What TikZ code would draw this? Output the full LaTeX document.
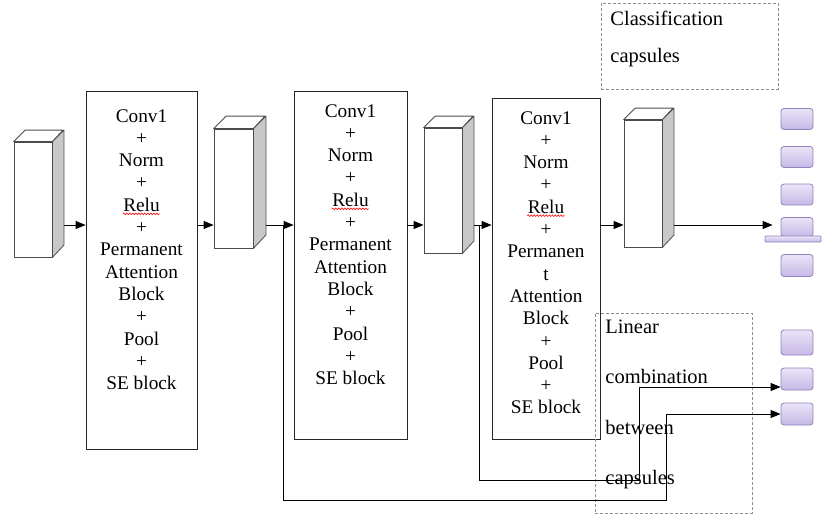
\documentclass[tikz,border=0pt]{standalone}
\usepackage{fontspec}
\setmainfont{Liberation Serif}
\usetikzlibrary{arrows.meta,decorations.pathmorphing}

\definecolor{sidegray}{HTML}{C8C8C8}
\definecolor{capTop}{HTML}{EAE4F8}
\definecolor{capBot}{HTML}{C6B8E6}
\definecolor{capEdge}{HTML}{9282BE}

\begin{document}
\begin{tikzpicture}[
        x=1pt, y=-1pt,
        line width=0.9pt,
        >={Triangle[length=10pt,width=8pt]},
        block/.style={rectangle, draw=black!85, line width=0.9pt, inner sep=0pt},
        cube/.style={rectangle, draw=black!70, fill=white, line width=0.8pt, inner sep=0pt},
        face/.style={draw=black!70, line width=0.8pt, line join=round},
        boxtext/.style={anchor=base, inner sep=0pt, font=\fontsize{19.3}{22}\selectfont},
        captxt/.style={anchor=base west, inner sep=0pt, font=\fontsize{20.5}{24}\selectfont},
        dashbox/.style={rectangle, draw=black!45, line width=0.6pt, dash pattern=on 3pt off 2pt, inner sep=0pt},
        capsule/.style={rectangle, rounded corners=3pt, draw=capEdge, line width=0.8pt, top color=capTop, bottom color=capBot, minimum width=32, inner sep=0pt},
        squiggle/.style={red, line width=0.6pt, decorate, decoration={snake, amplitude=0.8pt, segment length=3pt}}
    ]
        \useasboundingbox (0,0) rectangle (822,517);

        % Feature maps (cuboids)
        \foreach \n/\cx/\cy/\w/\h/\d in {c1/33/199.5/38/115/11.5, c2/233.5/188.5/39/119/12.5, c3/443/190.5/38/125/11.5, c4/643/183.5/38/127/11.5} {
            \node[cube, minimum width=\w, minimum height=\h] (\n) at (\cx,\cy) {};
            \draw[face, fill=white] (\n.north west) -- ++(\d,-\d) -- ++(\w,0) -- (\n.north east) -- cycle;
            \draw[face, fill=sidegray] (\n.north east) -- ++(\d,-\d) -- ++(0,\h) -- (\n.south east) -- cycle;
            \coordinate (\n r) at ([xshift=\d pt]\n.east);
        }

        % Processing blocks
        \node[block, minimum width=111, minimum height=358] (b1) at (141.5,270) {};
        \node[block, minimum width=113, minimum height=348] (b2) at (350.5,265) {};
        \node[block, minimum width=108, minimum height=341] (b3) at (546,268.5) {};

        \foreach \t [count=\k] in {Conv1,+,Norm,+,Relu,+,Permanent,Attention,Block,+,Pool,+,SE block} {
            \node[boxtext] (b1l\k) at (141.5,{122+(\k-1)*22.33}) {\t};
        }
        \foreach \t [count=\k] in {Conv1,+,Norm,+,Relu,+,Permanent,Attention,Block,+,Pool,+,SE block} {
            \node[boxtext] (b2l\k) at (350.5,{117+(\k-1)*22.33}) {\t};
        }
        \foreach \t [count=\k] in {Conv1,+,Norm,+,Relu,+,Permanen,t,Attention,Block,+,Pool,+,SE block} {
            \node[boxtext] (b3l\k) at (546,{124+(\k-1)*22.3}) {\t};
        }
        \foreach \b in {b1,b2,b3} {
            \draw[squiggle] ([yshift=-2.5pt]\b l5.base west) -- ([yshift=-2.5pt]\b l5.base east);
        }

        % Capsules
        \foreach \i/\y/\h in {1/119/21,2/157/21,3/194.5/21,4/227/19,5/265.5/22,6/342.5/25,7/379/22,8/414/22} {
            \node[capsule, minimum height=\h] (k\i) at (797,\y) {};
        }
        \node[capsule, rounded corners=1pt, minimum width=56, minimum height=6] (plate) at (793,239) {};

        % Dashed groups
        \node[dashbox, minimum width=177, minimum height=86] (cbox) at (689.5,46) {};
        \node[captxt] (cls1) at (610,25) {Classification};
        \node[captxt] (cls2) at (610,62) {capsules};
        \node[dashbox, minimum width=157, minimum height=200] (lbox) at (673.5,413) {};
        \foreach \t [count=\k] in {Linear,combination,between,capsules} {
            \node[captxt] (lin\k) at (605,{333+(\k-1)*50.5}) {\t};
        }

        % Main flow
        \coordinate (ay) at (0,225);
        \coordinate (b2w) at (b2.west |- ay);
        \coordinate (b3w) at (b3.west |- ay);
        \coordinate (j1) at ([xshift=-10pt]b2w);
        \coordinate (j2) at ([xshift=-12pt]b3w);
        \coordinate (k4in) at ([xshift=-8pt]k4.west);
        \coordinate (k7in) at ([yshift=-8pt]k7.west);
        \draw[->] (c1r |- ay) -- (b1.west |- ay);
        \draw[->] (b1.east |- ay) -- (c2.west |- ay);
        \draw[->] (c2r |- ay) -- (b2w);
        \draw[->] (b2.east |- ay) -- (c3.west |- ay);
        \draw[->] (c3r |- ay) -- (b3w);
        \draw[->] (b3.east |- ay) -- (c4.west |- ay);
        \draw[->] (c4r |- ay) -- (k4in |- ay);

        % Skip branches
        \draw[->] (j1) |- ++(383,275) |- (k8.west);
        \draw[->] (j2) |- ++(160,255) |- (k7in);
    \end{tikzpicture}
\end{document}
